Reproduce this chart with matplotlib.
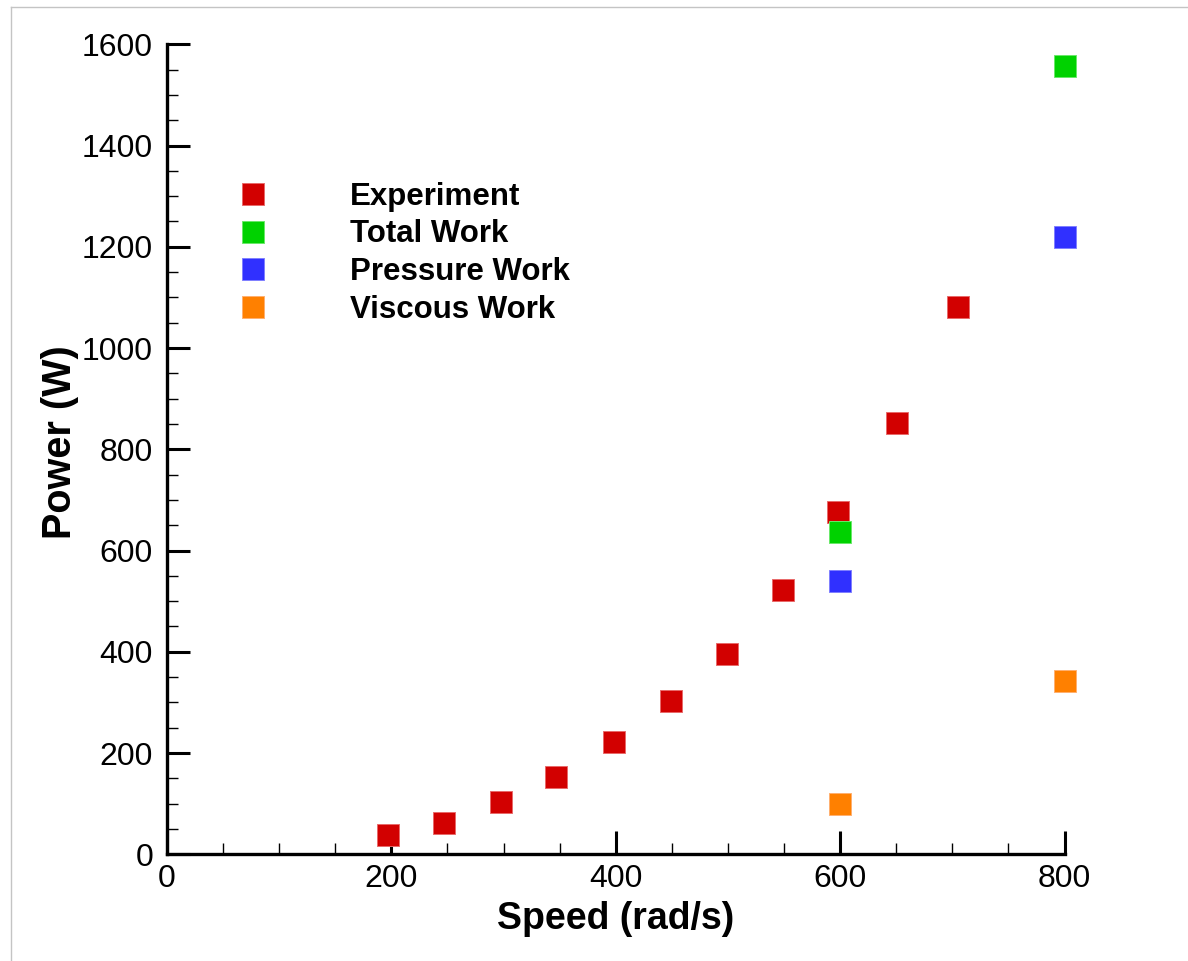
import matplotlib
matplotlib.use("Agg")
import matplotlib.pyplot as plt
from matplotlib.lines import Line2D
from matplotlib.ticker import MultipleLocator

plt.rcParams['font.family'] = ['Liberation Sans', 'DejaVu Sans']

# Measured power vs. rotational speed
exp_speed = [197, 247, 298, 347, 398, 449, 499, 549, 598, 651, 705]
exp_power = [38, 62, 104, 153, 221, 302, 395, 523, 677, 851, 1082]

# Simulated work components
sim_speed = [600, 800]
total_work = [636, 1558]
pressure_work = [540, 1219]
viscous_work = [100, 343]

series = [
    ("Experiment", exp_speed, exp_power, "#D20000", "#E86A6A"),
    ("Total Work", sim_speed, total_work, "#00D200", "#6AE86A"),
    ("Pressure Work", sim_speed, pressure_work, "#3030FF", "#8080FF"),
    ("Viscous Work", sim_speed, viscous_work, "#FF8000", "#FFB070"),
]

W, H = 1188, 961
fig = plt.figure(figsize=(W / 100, H / 100), dpi=100)
ax = fig.add_axes([167 / W, 1 - 854.3 / H, (1064.5 - 167) / W, (854.3 - 44.3) / H])

for label, xs, ys, face, edge in series:
    ax.plot(xs, ys, linestyle="none", marker="s", markersize=15.5,
            markerfacecolor=face, markeredgecolor=edge, markeredgewidth=0.7,
            label=label, clip_on=False, zorder=2)

ax.set_xlim(0, 800)
ax.set_ylim(0, 1600)
ax.xaxis.set_major_locator(MultipleLocator(200))
ax.xaxis.set_minor_locator(MultipleLocator(50))
ax.yaxis.set_major_locator(MultipleLocator(200))
ax.yaxis.set_minor_locator(MultipleLocator(50))

for side in ("top", "right"):
    ax.spines[side].set_visible(False)
for side in ("left", "bottom"):
    ax.spines[side].set_linewidth(2.4)
    ax.spines[side].set_color("black")

ax.tick_params(which="major", direction="in", length=16.5, width=2.2,
               labelsize=23, color="black")
ax.tick_params(which="minor", direction="in", length=8, width=1.0, color="black")
ax.tick_params(axis="y", which="major", pad=10)
ax.tick_params(axis="x", which="major", pad=7)

ax.set_xlabel("Speed (rad/s)", fontsize=27, fontweight="bold", labelpad=5)
ax.set_ylabel("Power (W)", fontsize=28.5, fontweight="bold", labelpad=2.5)
ax.yaxis.label.set_y(0.509)

leg = ax.legend(loc="upper left", bbox_to_anchor=(221.5 / W, 1 - 182 / H),
                bbox_transform=fig.transFigure, frameon=False,
                prop={"size": 22.5, "weight": "bold"},
                handlelength=2.0, handletextpad=2.1, labelspacing=0.24,
                borderaxespad=0, borderpad=0)

# thin grey frame along the left and top edges of the image
fig.add_artist(Line2D([10.5 / W, 10.5 / W], [0, 1 - 7 / H],
                      transform=fig.transFigure, color="#C4C4C4", linewidth=1.0))
fig.add_artist(Line2D([10.5 / W, 1], [1 - 7 / H, 1 - 7 / H],
                      transform=fig.transFigure, color="#C4C4C4", linewidth=1.0))

fig.savefig("out.png", dpi=100, facecolor="white")
